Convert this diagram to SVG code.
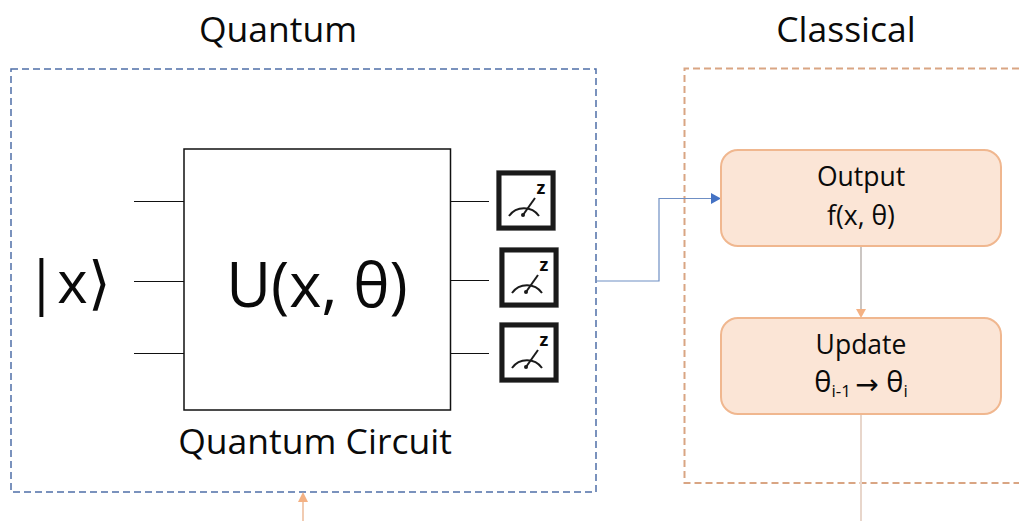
<svg xmlns="http://www.w3.org/2000/svg" width="1019" height="521" viewBox="0 0 1019 521">
<style>
text{font-family:"Open Sans","Noto Sans","Liberation Sans",sans-serif;fill:#0a0a0a;text-anchor:middle}
.wire{stroke:#111;stroke-width:1;fill:none}
.card{fill:#fbe5d6;stroke:#f0b78f;stroke-width:2}
.mframe{fill:#fff;stroke:#1a1a1a;stroke-width:5}
.mdial{fill:none;stroke:#1a1a1a;stroke-width:2}
.mz{font-size:18px;font-weight:700}
.t20{font-size:26.500px}
.t{font-size:35.500px}
</style>
<defs>
<g id="meter">
<rect x="0" y="0" width="60" height="61" fill="#c8c8c8"/>
<rect class="mframe" x="3" y="3" width="54" height="55"/>
<path class="mdial" d="M13 46 A18.500 18.500 0 0 1 43 46"/>
<path class="mdial" d="M27 45 L39 28"/>
<circle cx="27" cy="45" r="2" fill="#1a1a1a"/>
<text class="mz" x="45" y="24">z</text>
</g>
</defs>
<rect width="1019" height="521" fill="#fff"/>
<g id="quantum-group">
<rect x="11" y="69" width="585" height="423" fill="none" stroke="#4f6fa8" stroke-width="1.500" stroke-dasharray="7 4"/>
<text class="t" x="278" y="42">Quantum</text>
</g>
<g id="classical-group">
<path d="M1019 68.500H684.500V483H1019" fill="none" stroke="#d9a583" stroke-width="2" stroke-dasharray="7 4"/>
<text class="t" x="846" y="42">Classical</text>
</g>
<g id="connectors" fill="none">
<path d="M597 281H659V198.500H712" stroke="#6f8fc4" stroke-width="1.200"/>
<polygon points="711,193 721,198.500 711,204" fill="#4472c4"/>
<path d="M861 246V310" stroke="#b0a8a2" stroke-width="1.300"/>
<polygon points="856,309 866,309 861,318" fill="#f4b183"/>
<path d="M861 414V521" stroke="#e8d6cb" stroke-width="2"/>
<path d="M303 501V521" stroke="#e8a97f" stroke-width="1.200"/>
<polygon points="298,502 308,502 303,492" fill="#f4b183"/>
<path class="wire" d="M134 201.500H184M134 281.500H184M134 353.500H184M451 201.500H489M451 280.500H489M451 353.500H489"/>
</g>
<g id="input"><text x="68" y="303" style="font-size:58px">|x⟩</text></g>
<g id="circuit">
<rect x="184" y="149" width="266.500" height="261" fill="#fff" stroke="#111" stroke-width="1.500"/>
<text x="317" y="307" style="font-size:61.500px">U(x, θ)</text>
<text x="315" y="454" style="font-size:35.500px">Quantum Circuit</text>
</g>
<g id="meter1"><use href="#meter" x="496" y="170"/></g>
<g id="meter2"><use href="#meter" x="499" y="247"/></g>
<g id="meter3"><use href="#meter" x="499" y="322"/></g>
<g id="output">
<rect class="card" x="721" y="150" width="280" height="96" rx="17"/>
<text class="t20" x="861" y="186">Output</text>
<text class="t20" x="861" y="225">f(x, θ)</text>
</g>
<g id="update">
<rect class="card" x="721" y="318" width="280" height="96" rx="17"/>
<text class="t20" x="861" y="354">Update</text>
<text class="t20" x="861" y="392" style="font-size:29px">θ<tspan font-size="17" dy="5">i-1 </tspan><tspan dy="-3" style="font-family:'DejaVu Sans',sans-serif;font-size:28px">→</tspan><tspan dy="-2"> θ</tspan><tspan font-size="17" dy="5">i</tspan></text>
</g>
</svg>
